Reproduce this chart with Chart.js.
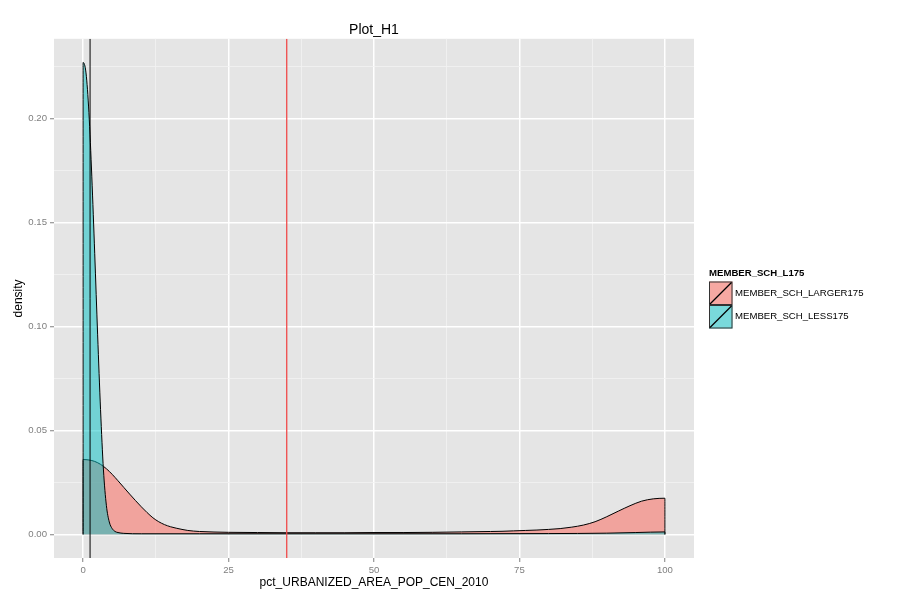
<!DOCTYPE html>
<html>
<head>
<meta charset="utf-8">
<script src="https://cdn.jsdelivr.net/npm/chart.js@4/dist/chart.umd.min.js"></script>
<style>
  html, body { margin: 0; padding: 0; background: #fff; }
  #wrap { width: 900px; height: 600px; }
</style>
</head>
<body>
<div id="wrap"><canvas id="plot"></canvas></div>
<script>
// density curves
const groupLabels = ['MEMBER_SCH_LARGER175', 'MEMBER_SCH_LESS175'];

const largerX = [0, 1, 2, 3, 4, 5, 6, 7, 8, 9, 10, 11, 12, 13, 14, 15, 16, 17, 18, 19, 20, 25, 30, 35, 40, 45, 50, 55, 60, 65, 70, 72, 74, 76, 78, 80, 82, 84, 86, 88, 90, 92, 94, 96, 98, 100];
const largerY = [0.0360, 0.0358, 0.0351, 0.0337, 0.0316, 0.0289, 0.0258, 0.0226, 0.0194, 0.0163, 0.0133, 0.0105, 0.0080, 0.0061, 0.0047, 0.0037, 0.0030, 0.0024, 0.0019, 0.0016, 0.0014, 0.0010, 0.0009, 0.0008, 0.0008, 0.0008, 0.0009, 0.0009, 0.0010, 0.0012, 0.0014, 0.0015, 0.0017, 0.0019, 0.0021, 0.0024, 0.0028, 0.0035, 0.0045, 0.0061, 0.0085, 0.0112, 0.0138, 0.0160, 0.0171, 0.0174];

const lessX = [0, 0.5, 1, 1.5, 2, 2.5, 3, 3.5, 4, 4.5, 5, 5.5, 6, 7, 10, 20, 50, 80, 90, 95, 100];
const lessY = [0.227, 0.222, 0.203, 0.172, 0.135, 0.096, 0.060, 0.031, 0.014, 0.006, 0.0028, 0.0014, 0.0009, 0.0005, 0.0003, 0.0003, 0.0003, 0.0004, 0.0006, 0.0009, 0.0012];

const blackLineX = 1.2;
const redLineX = 35;

const xTicks = [0, 25, 50, 75, 100];
const yTicks = [0, 0.05, 0.10, 0.15, 0.20];

const X_MIN = -5, X_MAX = 105;
const Y_MIN = -0.01135, Y_MAX = 0.2384;

const FONT = '"Liberation Sans", Arial, Helvetica, sans-serif';
const PINK = 'rgba(248,118,109,0.6)';
const TEAL = 'rgba(0,191,196,0.5)';

// closed polygon, like geom_density draws it
function polygon(xs, ys) {
  const pts = [{ x: xs[0], y: 0 }];
  xs.forEach((x, i) => pts.push({ x, y: ys[i] }));
  pts.push({ x: xs[xs.length - 1], y: 0 });
  return pts;
}

function withMinors(major) {
  const out = [];
  const step = major[1] - major[0];
  major.forEach(m => {
    out.push(m);
    out.push(+(m + step / 2).toFixed(6));
  });
  return out;
}

function isMajor(v, list) {
  return list.some(m => Math.abs(m - v) < 1e-9);
}

const panelBg = {
  id: 'panelBg',
  beforeDraw(chart) {
    const { ctx, chartArea: a } = chart;
    ctx.save();
    ctx.fillStyle = '#fff';
    ctx.fillRect(0, 0, chart.width, chart.height);
    ctx.fillStyle = '#E5E5E5';
    ctx.fillRect(a.left, a.top, a.right - a.left, a.bottom - a.top);
    ctx.restore();
  }
};

const ggLegend = {
  id: 'ggLegend',
  afterDraw(chart) {
    const ctx = chart.ctx;
    const x0 = 709, keyTop = 281.5, key = 23.5;
    const fills = [PINK, TEAL];
    ctx.save();
    ctx.fillStyle = '#000';
    ctx.font = 'bold 9.6px ' + FONT;
    ctx.textBaseline = 'middle';
    ctx.fillText('MEMBER_SCH_L175', x0, 273.5);
    ctx.font = '9.6px ' + FONT;
    groupLabels.forEach((lab, i) => {
      const y = keyTop + i * key;
      ctx.fillStyle = '#F2F2F2';
      ctx.fillRect(x0, y, key, key);
      ctx.fillStyle = fills[i];
      ctx.fillRect(x0, y, key, key);
      ctx.strokeStyle = '#333';
      ctx.lineWidth = 1;
      ctx.strokeRect(x0 + 0.5, y + 0.5, key - 1, key - 1);
      ctx.strokeStyle = '#000';
      ctx.lineWidth = 1.2;
      ctx.beginPath();
      ctx.moveTo(x0 + 1, y + key - 1);
      ctx.lineTo(x0 + key - 1, y + 1);
      ctx.stroke();
      ctx.fillStyle = '#000';
      ctx.fillText(lab, x0 + key + 2.5, y + key / 2);
    });
    ctx.restore();
  }
};

const gridColor = list => c => (c.tick && isMajor(c.tick.value, list)) ? '#FFFFFF' : '#F2F2F2';
const gridWidth = list => c => (c.tick && isMajor(c.tick.value, list)) ? 1.5 : 0.8;
const tickColor = list => c => (c.tick && isMajor(c.tick.value, list)) ? '#7F7F7F' : 'rgba(0,0,0,0)';

new Chart(document.getElementById('plot'), {
  type: 'line',
  data: {
    datasets: [
      {
        label: 'vline black',
        data: [{ x: blackLineX, y: Y_MIN }, { x: blackLineX, y: Y_MAX }],
        borderColor: '#000',
        borderWidth: 1,
        pointRadius: 0,
        fill: false,
        order: 0
      },
      {
        label: 'vline red',
        data: [{ x: redLineX, y: Y_MIN }, { x: redLineX, y: Y_MAX }],
        borderColor: '#F04A4A',
        borderWidth: 1.3,
        pointRadius: 0,
        fill: false,
        order: 0
      },
      {
        label: groupLabels[1],
        data: polygon(lessX, lessY),
        borderColor: '#000',
        borderWidth: 1,
        backgroundColor: TEAL,
        fill: 'origin',
        pointRadius: 0,
        cubicInterpolationMode: 'monotone',
        order: 1
      },
      {
        label: groupLabels[0],
        data: polygon(largerX, largerY),
        borderColor: '#000',
        borderWidth: 1,
        backgroundColor: PINK,
        fill: 'origin',
        pointRadius: 0,
        cubicInterpolationMode: 'monotone',
        order: 2
      }
    ]
  },
  options: {
    responsive: true,
    maintainAspectRatio: false,
    animation: false,
    layout: { padding: { left: 0, right: 206, top: 0, bottom: 0 } },
    plugins: {
      legend: { display: false },
      tooltip: { enabled: false },
      title: {
        display: true,
        text: 'Plot_H1',
        fullSize: false,
        color: '#000',
        font: { family: FONT, size: 14, weight: 'normal', lineHeight: 1.2 },
        padding: { top: 22, bottom: 0 }
      }
    },
    scales: {
      x: {
        type: 'linear',
        min: X_MIN,
        max: X_MAX,
        afterBuildTicks: s => { s.ticks = withMinors(xTicks).filter(v => v <= X_MAX).map(v => ({ value: v })); },
        afterFit: s => { s.height = 42; },
        border: { display: false },
        grid: {
          color: gridColor(xTicks),
          lineWidth: gridWidth(xTicks),
          tickColor: tickColor(xTicks),
          tickLength: 4,
          tickWidth: 1
        },
        ticks: {
          autoSkip: false,
          maxRotation: 0,
          padding: 3,
          color: '#7F7F7F',
          font: { family: FONT, size: 9.6 },
          callback: v => isMajor(v, xTicks) ? String(v) : ''
        },
        title: {
          display: true,
          text: 'pct_URBANIZED_AREA_POP_CEN_2010',
          color: '#000',
          font: { family: FONT, size: 12 },
          padding: { top: 0, bottom: 10 }
        }
      },
      y: {
        type: 'linear',
        min: Y_MIN,
        max: Y_MAX,
        afterBuildTicks: s => { s.ticks = withMinors(yTicks).filter(v => v <= Y_MAX).map(v => ({ value: v })); },
        afterFit: s => { s.width = 54; },
        border: { display: false },
        grid: {
          color: gridColor(yTicks),
          lineWidth: gridWidth(yTicks),
          tickColor: tickColor(yTicks),
          tickLength: 4,
          tickWidth: 1
        },
        ticks: {
          autoSkip: false,
          padding: 3,
          color: '#7F7F7F',
          font: { family: FONT, size: 9.6 },
          callback: v => isMajor(v, yTicks) ? v.toFixed(2) : ''
        },
        title: {
          display: true,
          text: 'density',
          color: '#000',
          font: { family: FONT, size: 12 },
          padding: { top: 11, bottom: 0 }
        }
      }
    }
  },
  plugins: [panelBg, ggLegend]
});
</script>
</body>
</html>
